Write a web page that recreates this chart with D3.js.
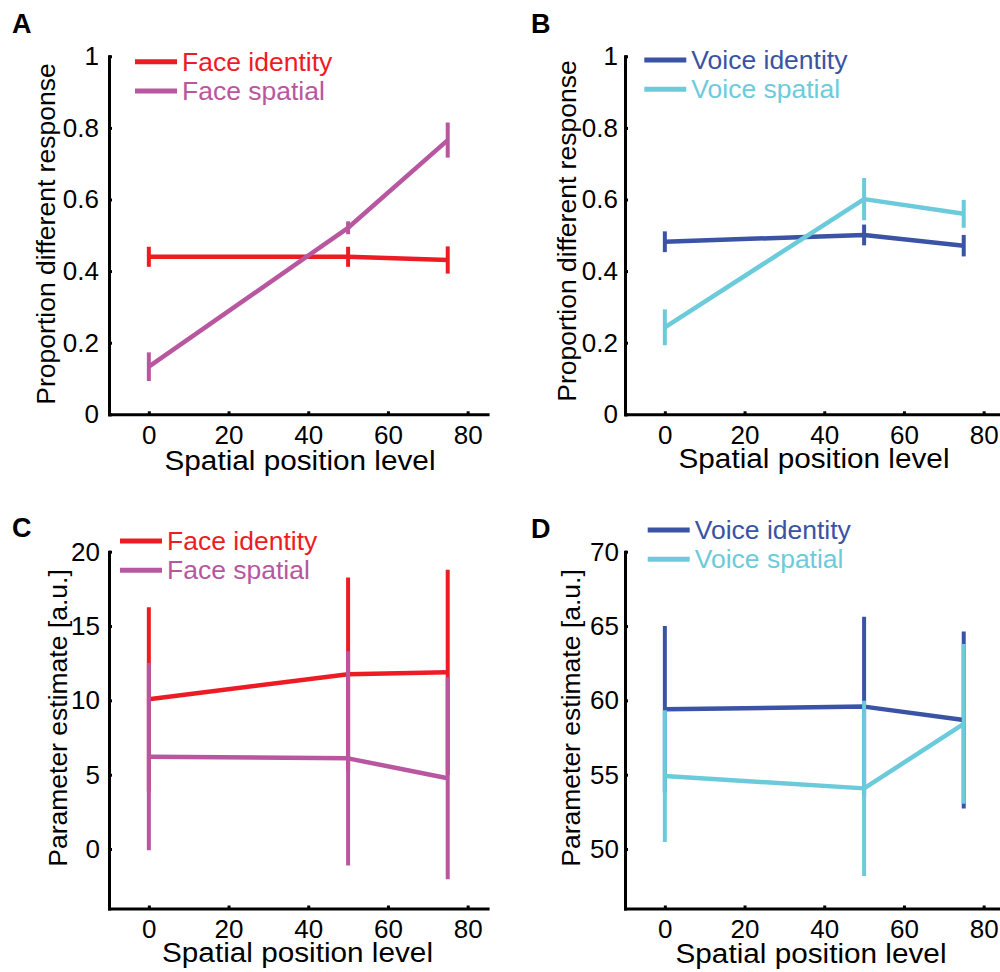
<!DOCTYPE html>
<html>
<head>
<meta charset="utf-8">
<script src="https://cdn.jsdelivr.net/npm/d3@7"></script>
<style>
  body { margin: 0; background: #fff; }
  svg { display: block; font-family: 'Liberation Sans', Arial, sans-serif; }
  .axis path, .axis line { stroke: #000; stroke-width: 3; }
  .axis text { font-size: 26px; fill: #000; font-family: 'Liberation Sans', Arial, sans-serif; }
</style>
</head>
<body>
<div class="container"></div>
<script>
// spatial position levels (x)
const levels = [0, 50, 75];
const xTicks = [0, 20, 40, 60, 80];
const propTicks = [0, 0.2, 0.4, 0.6, 0.8, 1];
const faceBetaTicks = [0, 5, 10, 15, 20];
const voiceBetaTicks = [50, 55, 60, 65, 70];

// A: proportion "different" responses, faces
const faceIdentityProp = [0.44, 0.44, 0.431];
const faceIdentityPropErr = [0.028, 0.028, 0.038];
const faceSpatialProp = [0.133, 0.521, 0.766];
const faceSpatialPropErr = [0.04, 0.018, 0.049];

// B: proportion "different" responses, voices
const voiceIdentityProp = [0.482, 0.501, 0.471];
const voiceIdentityPropErr = [0.029, 0.029, 0.03];
const voiceSpatialProp = [0.243, 0.601, 0.56];
const voiceSpatialPropErr = [0.05, 0.059, 0.039];

// C: parameter estimates, faces
const faceIdentityBeta = [10.07, 11.76, 11.89];
const faceIdentityBetaErr = [6.2, 6.5, 6.9];
const faceSpatialBeta = [6.21, 6.1, 4.76];
const faceSpatialBetaErr = [6.3, 7.2, 6.8];

// D: parameter estimates, voices
const voiceIdentityBeta = [59.4, 59.58, 58.68];
const voiceIdentityBetaErr = [5.6, 6.05, 5.95];
const voiceSpatialBeta = [54.91, 54.08, 58.42];
const voiceSpatialBetaErr = [4.43, 5.9, 5.37];

const colors = {
  faceIdentity: '#ed1c24',
  faceSpatial: '#b8579f',
  voiceIdentity: '#3a53a4',
  voiceSpatial: '#6ccbdb',
};

const width = 1000;
const height = 972;

const panels = [
  {
    letter: 'A', letterPos: [12, 33],
    left: 109, bottom: 414.3, top: 56.3, yDomain: [0, 1], yTicks: propTicks, tickPad: 10,
    yTitle: 'Proportion different response', yTitlePos: [55, 234],
    xTitlePos: [300, 470],
    legend: { x: 135, y: 61.7 },
    series: [
      { name: 'Face identity', values: faceIdentityProp, err: faceIdentityPropErr, color: colors.faceIdentity },
      { name: 'Face spatial', values: faceSpatialProp, err: faceSpatialPropErr, color: colors.faceSpatial },
    ],
  },
  {
    letter: 'B', letterPos: [531, 33],
    left: 625, bottom: 414.3, top: 56.3, yDomain: [0, 1], yTicks: propTicks, tickPad: 7,
    yTitle: 'Proportion different response', yTitlePos: [576, 231],
    xTitlePos: [814, 468],
    legend: { x: 644.3, y: 60 },
    series: [
      { name: 'Voice identity', values: voiceIdentityProp, err: voiceIdentityPropErr, color: colors.voiceIdentity },
      { name: 'Voice spatial', values: voiceSpatialProp, err: voiceSpatialPropErr, color: colors.voiceSpatial },
    ],
  },
  {
    letter: 'C', letterPos: [12, 537],
    left: 109, bottom: 908.5, top: 551.7, yDomain: [-4, 20], yTicks: faceBetaTicks, tickPad: 9,
    yTitle: 'Parameter estimate [a.u.]', yTitlePos: [66.5, 718],
    xTitlePos: [297.5, 962],
    legend: { x: 120, y: 541 },
    series: [
      { name: 'Face identity', values: faceIdentityBeta, err: faceIdentityBetaErr, color: colors.faceIdentity },
      { name: 'Face spatial', values: faceSpatialBeta, err: faceSpatialBetaErr, color: colors.faceSpatial },
    ],
  },
  {
    letter: 'D', letterPos: [531, 538],
    left: 625, bottom: 908.5, top: 551.7, yDomain: [46, 70], yTicks: voiceBetaTicks, tickPad: 6,
    yTitle: 'Parameter estimate [a.u.]', yTitlePos: [580, 718],
    xTitlePos: [811, 963],
    legend: { x: 647.7, y: 530 },
    series: [
      { name: 'Voice identity', values: voiceIdentityBeta, err: voiceIdentityBetaErr, color: colors.voiceIdentity },
      { name: 'Voice spatial', values: voiceSpatialBeta, err: voiceSpatialBetaErr, color: colors.voiceSpatial },
    ],
  },
];

const svg = d3.select('.container')
  .append('svg')
  .attr('width', width)
  .attr('height', height);

svg.append('rect').attr('width', width).attr('height', height).attr('fill', '#fff');

panels.forEach(p => {
  const g = svg.append('g').attr('class', 'panel');

  // x domain [-10, 85]: 20 units ~ 79.7px
  const xScale = d3.scaleLinear()
    .domain([-10, 85])
    .range([p.left, p.left + 95 * 3.985]);

  const yScale = d3.scaleLinear()
    .domain(p.yDomain)
    .range([p.bottom, p.top]);

  const xAxis = d3.axisBottom(xScale)
    .tickValues(xTicks)
    .tickSizeInner(-3)
    .tickSizeOuter(0)
    .tickPadding(11.5)
    .tickFormat(d3.format('d'));

  const yAxis = d3.axisLeft(yScale)
    .tickValues(p.yTicks)
    .tickSizeInner(-3)
    .tickSizeOuter(0)
    .tickPadding(p.tickPad)
    .tickFormat(d => String(d));

  g.append('g')
    .attr('class', 'axis')
    .attr('transform', `translate(0, ${p.bottom})`)
    .call(xAxis)
    .call(s => s.select('.domain').attr('stroke-linecap', 'square'));

  g.append('g')
    .attr('class', 'axis')
    .attr('transform', `translate(${p.left}, 0)`)
    .call(yAxis)
    .call(s => s.select('.domain').attr('stroke-linecap', 'square'));

  const line = d3.line()
    .x((d, i) => xScale(levels[i]))
    .y(d => yScale(d));

  p.series.forEach(s => {
    const sg = g.append('g');

    sg.append('path')
      .attr('d', line(s.values))
      .attr('fill', 'none')
      .attr('stroke', s.color)
      .attr('stroke-width', 4.5)
      .attr('stroke-linejoin', 'round');

    sg.selectAll('line.err')
      .data(s.values)
      .enter()
      .append('line')
      .attr('class', 'err')
      .attr('x1', (d, i) => xScale(levels[i]))
      .attr('x2', (d, i) => xScale(levels[i]))
      .attr('y1', (d, i) => yScale(d - s.err[i]))
      .attr('y2', (d, i) => yScale(d + s.err[i]))
      .attr('stroke', s.color)
      .attr('stroke-width', 4);
  });

  // legend
  const lg = g.append('g').attr('transform', `translate(${p.legend.x}, ${p.legend.y})`);
  p.series.forEach((s, i) => {
    lg.append('line')
      .attr('x1', 0).attr('x2', 42)
      .attr('y1', i * 29.3).attr('y2', i * 29.3)
      .attr('stroke', s.color)
      .attr('stroke-width', 5);
    lg.append('text')
      .attr('x', 47)
      .attr('y', i * 29.3 + 9)
      .attr('fill', s.color)
      .attr('font-size', 26.5)
      .text(s.name);
  });

  // titles
  g.append('text')
    .attr('transform', `translate(${p.yTitlePos[0]}, ${p.yTitlePos[1]}) rotate(-90)`)
    .attr('text-anchor', 'middle')
    .attr('font-size', 26.5)
    .text(p.yTitle);

  g.append('text')
    .attr('x', p.xTitlePos[0])
    .attr('y', p.xTitlePos[1])
    .attr('text-anchor', 'middle')
    .attr('font-size', 27)
    .attr('textLength', 271)
    .attr('lengthAdjust', 'spacingAndGlyphs')
    .text('Spatial position level');

  g.append('text')
    .attr('x', p.letterPos[0])
    .attr('y', p.letterPos[1])
    .attr('font-size', 27)
    .attr('font-weight', 'bold')
    .text(p.letter);
});
</script>
</body>
</html>
